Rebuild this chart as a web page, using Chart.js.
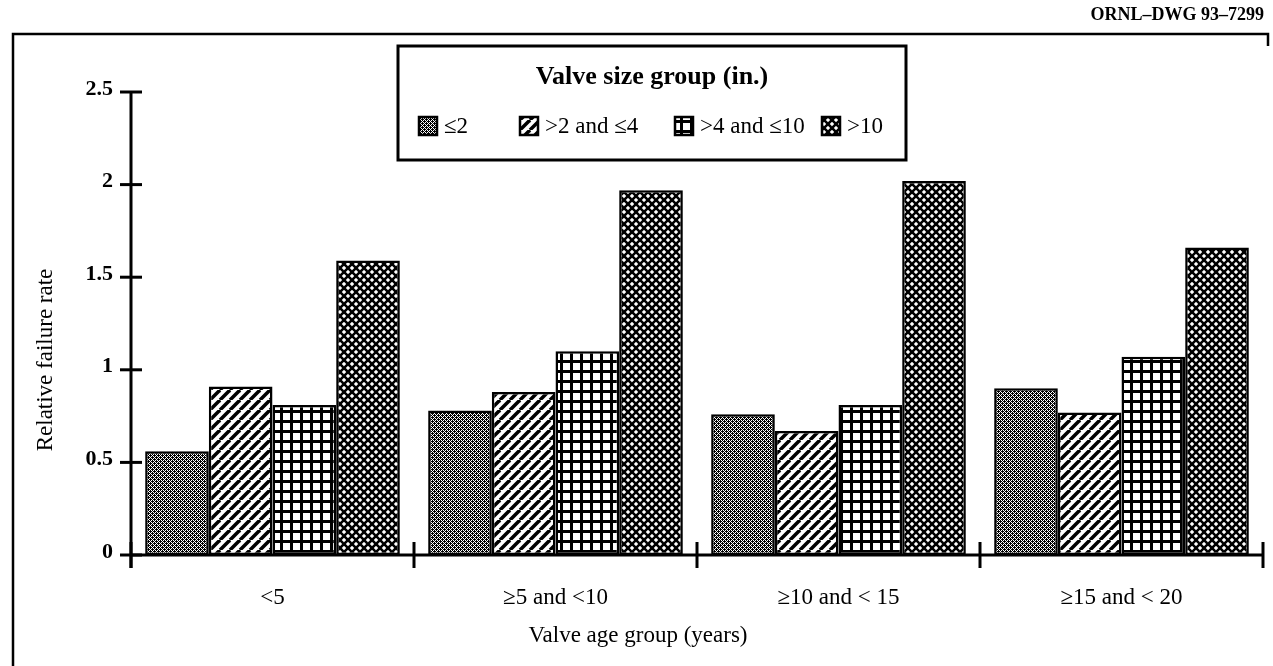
<!DOCTYPE html>
<html>
<head>
<meta charset="utf-8">
<script src="https://cdn.jsdelivr.net/npm/chart.js@4.4.1/dist/chart.umd.min.js"></script>
<style>
  html, body { margin: 0; padding: 0; background: #fff; }
  #wrap { position: relative; width: 1273px; height: 666px; }
</style>
</head>
<body>
<div id="wrap"><canvas id="chart" width="1273" height="666"></canvas></div>
<script>
// data
const ageGroups = ['<5', '\u22655 and <10', '\u226510 and < 15', '\u226515 and < 20'];
const sizeGroups = ['\u22642', '>2 and \u22644', '>4 and \u226410', '>10'];
const upTo2 = [0.56, 0.78, 0.76, 0.90];
const from2to4 = [0.91, 0.88, 0.67, 0.77];
const from4to10 = [0.81, 1.10, 0.81, 1.07];
const over10 = [1.59, 1.97, 2.02, 1.66];
const yTicks = [0, 0.5, 1, 1.5, 2, 2.5];

const FONT = '"Liberation Serif", "Times New Roman", serif';

const makeTile = (size, draw) => {
  const c = document.createElement('canvas');
  c.width = size;
  c.height = size;
  const g = c.getContext('2d');
  g.fillStyle = '#fff';
  g.fillRect(0, 0, size, size);
  draw(g, size);
  return document.createElement('canvas').getContext('2d').createPattern(c, 'repeat');
};

// fine stipple
const stipple = makeTile(4, (g) => {
  g.fillStyle = '#000';
  [[0, 0], [2, 0], [1, 1], [3, 1], [0, 2], [2, 2], [1, 3], [3, 3], [0, 1], [2, 3]].forEach(([x, y]) => g.fillRect(x, y, 1, 1));
});

// forward diagonal stripes
const stripes = makeTile(10, (g, s) => {
  g.strokeStyle = '#000';
  g.lineWidth = 3.5;
  [-s, 0, s].forEach((o) => {
    g.beginPath();
    g.moveTo(o, s);
    g.lineTo(o + s, 0);
    g.stroke();
  });
});

// square grid
const grid = makeTile(10, (g) => {
  g.fillStyle = '#000';
  g.fillRect(0, 0, 10, 10);
  g.fillStyle = '#fff';
  g.fillRect(3, 3, 7, 7);
});

// diagonal crosshatch
const hatch = makeTile(8, (g, s) => {
  g.strokeStyle = '#000';
  g.lineWidth = 2.6;
  [-s, 0, s].forEach((o) => {
    g.beginPath();
    g.moveTo(o, s);
    g.lineTo(o + s, 0);
    g.stroke();
    g.beginPath();
    g.moveTo(o, 0);
    g.lineTo(o + s, s);
    g.stroke();
  });
});

const fills = [stipple, stripes, grid, hatch];
const series = [upTo2, from2to4, from4to10, over10];

const drawing = {
  id: 'drawing',
  afterDraw(chart) {
    const { ctx, scales: { x, y } } = chart;
    const area = chart.chartArea;
    ctx.save();
    ctx.strokeStyle = '#000';
    ctx.fillStyle = '#000';
    ctx.lineCap = 'butt';

    // outer frame
    ctx.lineWidth = 2.5;
    ctx.beginPath();
    ctx.moveTo(13, 666);
    ctx.lineTo(13, 34);
    ctx.lineTo(1268, 34);
    ctx.lineTo(1268, 46);
    ctx.stroke();

    // drawing number
    ctx.font = 'bold 18px ' + FONT;
    ctx.textAlign = 'right';
    ctx.textBaseline = 'middle';
    ctx.fillText('ORNL\u2013DWG 93\u20137299', 1264, 15);

    // axes
    const y0 = y.getPixelForValue(0);
    const yTop = y.getPixelForValue(2.5);
    ctx.lineWidth = 3;
    ctx.beginPath();
    ctx.moveTo(area.left, yTop);
    ctx.lineTo(area.left, y0 + 13);
    ctx.moveTo(area.left, y0);
    ctx.lineTo(area.right, y0);
    ctx.stroke();

    // crossing tick marks
    yTicks.forEach((v) => {
      const py = y.getPixelForValue(v);
      ctx.beginPath();
      ctx.moveTo(area.left - 11, py);
      ctx.lineTo(area.left + 11, py);
      ctx.stroke();
    });
    const step = x.getPixelForValue(1) - x.getPixelForValue(0);
    for (let i = 0; i <= ageGroups.length; i++) {
      const px = x.getPixelForValue(0) - step / 2 + i * step;
      ctx.beginPath();
      ctx.moveTo(px, y0 - 13);
      ctx.lineTo(px, y0 + 13);
      ctx.stroke();
    }

    // axis titles
    ctx.font = '23px ' + FONT;
    ctx.textAlign = 'center';
    ctx.textBaseline = 'middle';
    ctx.fillText('Valve age group (years)', 638, 636);
    ctx.save();
    ctx.translate(46, 360);
    ctx.rotate(-Math.PI / 2);
    ctx.fillText('Relative failure rate', 0, 0);
    ctx.restore();

    // legend box
    const box = { left: 398, top: 46, right: 906, bottom: 160 };
    ctx.fillStyle = '#fff';
    ctx.fillRect(box.left, box.top, box.right - box.left, box.bottom - box.top);
    ctx.lineWidth = 3;
    ctx.strokeRect(box.left, box.top, box.right - box.left, box.bottom - box.top);
    ctx.fillStyle = '#000';
    ctx.font = 'bold 26px ' + FONT;
    ctx.fillText('Valve size group (in.)', 652, 77);

    const itemX = [419, 520, 675, 822];
    ctx.textAlign = 'left';
    ctx.font = '23px ' + FONT;
    chart.data.datasets.forEach((ds, i) => {
      ctx.fillStyle = ds.backgroundColor;
      ctx.fillRect(itemX[i], 117, 18, 18);
      ctx.lineWidth = 2.5;
      ctx.strokeRect(itemX[i], 117, 18, 18);
      ctx.fillStyle = '#000';
      ctx.fillText(ds.label, itemX[i] + 25, 127);
    });
    ctx.restore();
  }
};

new Chart(document.getElementById('chart'), {
  type: 'bar',
  data: {
    labels: ageGroups,
    datasets: sizeGroups.map((label, i) => ({
      label,
      data: series[i],
      backgroundColor: fills[i],
      borderColor: '#000',
      borderWidth: 2.5,
      borderSkipped: false,
      categoryPercentage: 0.9,
      barPercentage: 1.0
    }))
  },
  options: {
    responsive: false,
    animation: false,
    layout: { padding: { top: 92, right: 10, left: 0, bottom: 0 } },
    plugins: {
      legend: { display: false },
      tooltip: { enabled: false }
    },
    scales: {
      x: {
        grid: { display: false },
        border: { display: false },
        ticks: { color: '#000', font: { family: FONT, size: 23 }, padding: 21, maxRotation: 0 },
        afterFit: (scale) => { scale.height = 111; }
      },
      y: {
        min: 0,
        max: 2.5,
        grid: { display: false },
        border: { display: false },
        ticks: {
          stepSize: 0.5,
          color: '#000',
          padding: 10,
          labelOffset: -3,
          font: { family: FONT, size: 22, weight: 'bold' },
          callback: (v) => String(v)
        },
        afterFit: (scale) => { scale.width = 131; }
      }
    }
  },
  plugins: [drawing]
});
</script>
</body>
</html>
